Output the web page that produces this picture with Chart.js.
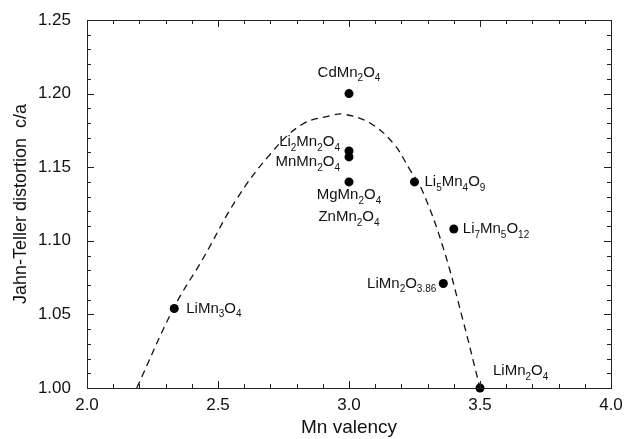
<!DOCTYPE html>
<html><head><meta charset="utf-8">
<script src="https://cdn.jsdelivr.net/npm/chart.js@4"></script>
<style>html,body{margin:0;padding:0;background:#fff}#wrap{width:626px;height:439px}</style>
</head><body><div id="wrap"><canvas id="c" width="626" height="439"></canvas></div>
<script>
// compounds
const compounds = ["CdMn2O4","Li2Mn2O4","MnMn2O4","MgMn2O4","Li5Mn4O9","Li7Mn5O12","LiMn2O3.86","LiMn3O4","LiMn2O4"];
const valency = [3.00, 3.00, 3.00, 3.00, 3.25, 3.40, 3.36, 2.333, 3.50];
const distortion = [1.200, 1.161, 1.157, 1.140, 1.140, 1.108, 1.071, 1.054, 1.000];
// dashed guide curve
const curveX = [2.19, 2.33, 2.443, 2.57, 2.70, 2.82, 2.93, 2.98, 3.08, 3.17, 3.23, 3.28, 3.36, 3.435, 3.50];
const curveY = [1.000, 1.054, 1.088, 1.128, 1.159, 1.179, 1.185, 1.186, 1.180, 1.166, 1.149, 1.134, 1.095, 1.046, 1.000];
const xTicks = [2.0, 2.5, 3.0, 3.5, 4.0];
const yTicks = [1.00, 1.05, 1.10, 1.15, 1.20, 1.25];

// label text pieces: [text, isSubscript]
const labelParts = {
  "CdMn2O4": [["CdMn",0],["2",1],["O",0],["4",1]],
  "Li2Mn2O4": [["Li",0],["2",1],["Mn",0],["2",1],["O",0],["4",1]],
  "MnMn2O4": [["MnMn",0],["2",1],["O",0],["4",1]],
  "MgMn2O4": [["MgMn",0],["2",1],["O",0],["4",1]],
  "ZnMn2O4": [["ZnMn",0],["2",1],["O",0],["4",1]],
  "Li5Mn4O9": [["Li",0],["5",1],["Mn",0],["4",1],["O",0],["9",1]],
  "Li7Mn5O12": [["Li",0],["7",1],["Mn",0],["5",1],["O",0],["12",1]],
  "LiMn2O3.86": [["LiMn",0],["2",1],["O",0],["3.86",1]],
  "LiMn3O4": [["LiMn",0],["3",1],["O",0],["4",1]],
  "LiMn2O4": [["LiMn",0],["2",1],["O",0],["4",1]]
};
// label placement styles: anchor point index, pixel offset, alignment
const labelStyle = [
  {name:"CdMn2O4", at:0, dx:0, dy:-21, align:"center"},
  {name:"Li2Mn2O4", at:1, dx:-9, dy:-9, align:"right"},
  {name:"MnMn2O4", at:2, dx:-9, dy:5, align:"right"},
  {name:"MgMn2O4", at:3, dx:0, dy:13, align:"center"},
  {name:"ZnMn2O4", at:3, dx:0, dy:35, align:"center"},
  {name:"Li5Mn4O9", at:4, dx:10, dy:0, align:"left"},
  {name:"Li7Mn5O12", at:5, dx:9, dy:0, align:"left"},
  {name:"LiMn2O3.86", at:6, dx:-7, dy:0, align:"right"},
  {name:"LiMn3O4", at:7, dx:12, dy:0, align:"left"},
  {name:"LiMn2O4", at:8, dx:13, dy:-17, align:"left"}
];

const FONT = "'Liberation Sans', Arial, sans-serif";

const decor = {
  id:'decor',
  afterDraw(chart){
    const ctx = chart.ctx, a = chart.chartArea;
    const xs = chart.scales.x, ys = chart.scales.y;
    ctx.save();
    ctx.strokeStyle = '#222'; ctx.lineWidth = 1;
    ctx.strokeRect(Math.round(a.left)+0.5, Math.round(a.top)+0.5, Math.round(a.right-a.left), Math.round(a.bottom-a.top));
    // inward ticks
    ctx.beginPath();
    for (let i=0;i<=20;i++){
      const v = 2.0 + i*0.1;
      const px = Math.round(xs.getPixelForValue(v))+0.5;
      const len = (i%5===0)?7:4;
      ctx.moveTo(px, a.bottom); ctx.lineTo(px, a.bottom-len);
      ctx.moveTo(px, a.top); ctx.lineTo(px, a.top+len);
    }
    for (let i=0;i<=25;i++){
      const v = 1.0 + i*0.01;
      const py = Math.round(ys.getPixelForValue(v))+0.5;
      const len = (i%5===0)?7:4;
      ctx.moveTo(a.left, py); ctx.lineTo(a.left+len, py);
      ctx.moveTo(a.right, py); ctx.lineTo(a.right-len, py);
    }
    ctx.stroke();
    // labels
    ctx.fillStyle = '#111';
    ctx.textBaseline = 'middle';
    for (const s of labelStyle){
      const parts = labelParts[s.name];
      const px = xs.getPixelForValue(valency[s.at]) + s.dx;
      const py = ys.getPixelForValue(distortion[s.at]) + s.dy;
      let w = 0;
      for (const [t,sub] of parts){ ctx.font = (sub? '10px ':'15px ')+FONT; w += ctx.measureText(t).width; }
      let x = s.align==='center' ? px - w/2 : (s.align==='right' ? px - w : px);
      for (const [t,sub] of parts){
        ctx.font = (sub? '10px ':'15px ')+FONT;
        ctx.fillText(t, x, sub ? py+6 : py);
        x += ctx.measureText(t).width;
      }
    }
    ctx.restore();
  }
};

new Chart(document.getElementById('c'), {
  type:'scatter',
  data:{
    datasets:[
      {type:'line', data: curveX.map((x,i)=>({x, y:curveY[i]})), borderColor:'#111', borderWidth:1.3,
       borderDash:[7,5], pointRadius:0, fill:false, tension:0.4},
      {data: valency.map((x,i)=>({x, y:distortion[i]})), pointRadius:4.5, pointBackgroundColor:'#000',
       pointBorderColor:'#000', pointBorderWidth:0, clip:false}
    ]
  },
  options:{
    responsive:false, animation:false,
    layout:{padding:{top:20, right:15, left:10, bottom:0}},
    plugins:{legend:{display:false}, tooltip:{enabled:false}},
    scales:{
      x:{type:'linear', min:2.0, max:4.0,
        afterBuildTicks(s){ s.ticks = xTicks.map(v=>({value:v})); },
        afterFit(s){ s.height = 51; s.paddingLeft = 0; s.paddingRight = 0; },
        grid:{display:false, drawTicks:false}, border:{display:false},
        ticks:{color:'#111', padding:7, font:{family:FONT, size:17}, callback:v=>v.toFixed(1), maxRotation:0, autoSkip:false},
        title:{display:true, text:'Mn valency', color:'#111', font:{family:FONT, size:19}, padding:{top:0,bottom:0}}
      },
      y:{type:'linear', min:1.0, max:1.25,
        afterBuildTicks(s){ s.ticks = yTicks.map(v=>({value:v})); },
        afterFit(s){ s.width = 77; s.paddingTop = 0; s.paddingBottom = 0; },
        grid:{display:false, drawTicks:false}, border:{display:false},
        ticks:{color:'#111', padding:16, font:{family:FONT, size:17}, callback:v=>v.toFixed(2), autoSkip:false},
        title:{display:true, text:'Jahn-Teller distortion  c/a', color:'#111', font:{family:FONT, size:18}, padding:{top:0,bottom:0}}
      }
    }
  },
  plugins:[decor]
});
</script></body></html>
